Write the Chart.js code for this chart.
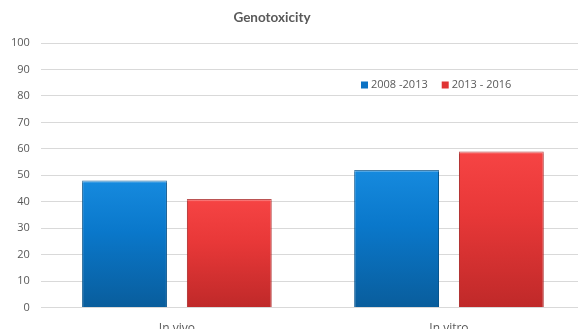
<!DOCTYPE html>
<html>
<head>
<meta charset="utf-8">
<script src="https://cdn.jsdelivr.net/npm/chart.js@4/dist/chart.umd.min.js"></script>
<style>
  html, body { margin: 0; padding: 0; background: #ffffff; overflow: hidden; }
  #wrap { position: relative; width: 578px; height: 329px; overflow: hidden; }
  #box { position: absolute; left: 0; top: 0; width: 585px; height: 350px; }
</style>
</head>
<body>
<div id="wrap"><div id="box"><canvas id="c"></canvas></div></div>
<script>
const chartTitle = 'Genotoxicity';
const categories = ['In vivo', 'In vitro'];
const seriesNames = ['2008 -2013', '2013 - 2016'];
const values2008_2013 = [48, 52];
const values2013_2016 = [41, 59];
const yTicks = [0, 10, 20, 30, 40, 50, 60, 70, 80, 90, 100];

const palettes = [
  { top: '#168ade', mid: '#0a78cb', bottom: '#095d9c', edge: '#08548c', legend: '#0b72c4' },
  { top: '#f64444', mid: '#e83838', bottom: '#bf2929', edge: '#a82222', legend: '#e03434' }
];

// vertical shading for each bar, from its own top down to the baseline
function barFill(p) {
  return (ctx) => {
    const chart = ctx.chart;
    if (!chart.chartArea || ctx.raw === undefined) return p.mid;
    const y = chart.scales.y;
    const top = y.getPixelForValue(ctx.raw);
    const base = y.getPixelForValue(0);
    const g = chart.ctx.createLinearGradient(0, top, 0, base);
    g.addColorStop(0, p.top);
    g.addColorStop(0.4, p.mid);
    g.addColorStop(1, p.bottom);
    return g;
  };
}

// heading centred over the visible frame, plus the legend inside the plot area
const headerAndLegend = {
  id: 'headerAndLegend',
  afterDraw(chart) {
    const ctx = chart.ctx;
    ctx.save();
    ctx.font = 'bold 13.5px Lato, "Open Sans", sans-serif';
    ctx.fillStyle = '#595959';
    ctx.textAlign = 'center';
    ctx.textBaseline = 'middle';
    ctx.fillText(chartTitle, 272, 18);

    ctx.font = '11px "Open Sans", "Liberation Sans", sans-serif';
    ctx.textAlign = 'left';
    let x = 361;
    const y = 85;
    chart.data.datasets.forEach((ds, i) => {
      ctx.fillStyle = palettes[i].legend;
      ctx.fillRect(x, y - 3.5, 7, 7);
      ctx.fillStyle = '#595959';
      ctx.fillText(ds.label, x + 10, y);
      x += 10 + ctx.measureText(ds.label).width + 14;
    });
    ctx.restore();
  }
};

// thin light strip along the top of every bar
const barBevel = {
  id: 'barBevel',
  afterDatasetsDraw(chart) {
    const ctx = chart.ctx;
    ctx.save();
    chart.data.datasets.forEach((ds, i) => {
      chart.getDatasetMeta(i).data.forEach(bar => {
        const w = bar.width;
        ctx.fillStyle = 'rgba(255,255,255,0.25)';
        ctx.fillRect(bar.x - w / 2, bar.y, w, 2);
      });
    });
    ctx.restore();
  }
};

new Chart(document.getElementById('c'), {
  type: 'bar',
  data: {
    labels: categories,
    datasets: [
      {
        label: seriesNames[0],
        data: values2008_2013,
        backgroundColor: barFill(palettes[0]),
        borderColor: palettes[0].edge,
        borderWidth: 1
      },
      {
        label: seriesNames[1],
        data: values2013_2016,
        backgroundColor: barFill(palettes[1]),
        borderColor: palettes[1].edge,
        borderWidth: 1
      }
    ]
  },
  options: {
    responsive: true,
    maintainAspectRatio: false,
    animation: false,
    devicePixelRatio: 1,
    layout: { padding: { left: 0, right: 0, top: 43, bottom: 0 } },
    categoryPercentage: 0.77,
    barPercentage: 0.81,
    plugins: {
      legend: { display: false },
      tooltip: { enabled: false },
      title: { display: false }
    },
    scales: {
      y: {
        min: 0,
        max: 100,
        afterBuildTicks(axis) { axis.ticks = yTicks.map(v => ({ value: v })); },
        ticks: {
          color: '#595959',
          font: { family: '"Open Sans", "Liberation Sans", sans-serif', size: 11 },
          padding: 11
        },
        grid: { color: '#d9d9d9', drawTicks: false, lineWidth: 1 },
        border: { display: false }
      },
      x: {
        ticks: {
          color: '#595959',
          font: { family: '"Open Sans", "Liberation Sans", sans-serif', size: 12 },
          padding: 14
        },
        grid: { display: false, drawTicks: false },
        border: { display: false }
      }
    }
  },
  plugins: [headerAndLegend, barBevel]
});
</script>
</body>
</html>
